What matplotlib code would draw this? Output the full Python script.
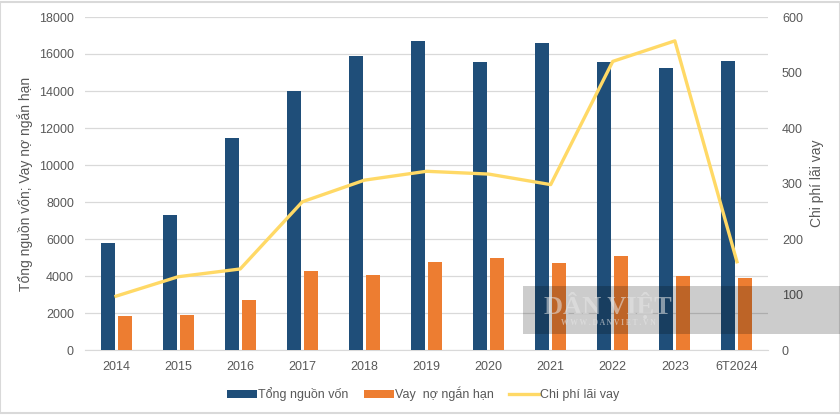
import matplotlib
matplotlib.use("Agg")
import matplotlib.pyplot as plt
import numpy as np
from matplotlib.patches import Rectangle

categories = ["2014", "2015", "2016", "2017", "2018", "2019", "2020", "2021", "2022", "2023", "6T2024"]
tong_nguon_von = [5780, 7300, 11450, 14000, 15880, 16700, 15560, 16600, 15560, 15240, 15610]
vay_no_ngan_han = [1840, 1890, 2700, 4270, 4050, 4750, 4970, 4700, 5080, 4000, 3890]
chi_phi_lai_vay = [97, 132, 146, 267, 306, 322, 317, 298, 520, 557, 159]

plt.rcParams['font.family'] = ['Liberation Sans', 'DejaVu Sans']
txt = '#595959'

fig = plt.figure(figsize=(8.4, 4.19), dpi=100)
ax = fig.add_axes([85/840, 1-350/419, (768-85)/840, (350-17)/419])
ax2 = ax.twinx()

x = np.arange(len(categories))
w = 0.225
off = 0.137
b1 = ax.bar(x - off, tong_nguon_von, w, color='#1F4E79', zorder=3, label='Tổng nguồn vốn')
b2 = ax.bar(x + off, vay_no_ngan_han, w, color='#ED7D31', zorder=3, label='Vay  nợ ngắn hạn')
l1, = ax2.plot(x, chi_phi_lai_vay, color='#FFD966', lw=2.4, zorder=4, label='Chi phí lãi vay')

ax.set_xlim(-0.5, len(categories) - 0.5)
ax.set_ylim(0, 18000)
ax.set_yticks(np.arange(0, 18001, 2000))
ax2.set_ylim(0, 600)
ax2.set_yticks(np.arange(0, 601, 100))
ax.set_xticks(x)
ax.set_xticklabels(categories)
ax.grid(axis='y', color='#D9D9D9', lw=0.9, zorder=0)
for a in (ax, ax2):
    for s in a.spines.values():
        s.set_visible(False)
    a.tick_params(length=0, colors=txt, labelsize=9)
ax.spines['bottom'].set_visible(True)
ax.spines['bottom'].set_color('#D9D9D9')
ax.tick_params(axis='y', pad=8)
ax.tick_params(axis='x', pad=8)
ax2.tick_params(axis='y', pad=10)
ax.set_ylabel('Tổng nguồn vốn; Vay nợ ngắn hạn', color=txt, fontsize=10)
ax.yaxis.set_label_coords((33 - 85) / 683, 0.5)
ax2.set_ylabel('Chi phí lãi vay', color=txt, fontsize=10)
ax2.yaxis.set_label_coords((810 - 85) / 683, 0.5)

fig.legend(handles=[b1, b2, l1], loc='center', bbox_to_anchor=(423/840, 1-394/419), ncol=3,
           frameon=False, fontsize=9, labelcolor=txt, handlelength=2.4, handleheight=0.6,
           handletextpad=0.1, columnspacing=1.2)

# watermark box
fig.patches.append(Rectangle((523/840, 1-334/419), (840-523)/840, 48/419, transform=fig.transFigure,
                             facecolor='black', alpha=0.2, edgecolor='none', zorder=10))
fig.text(608/840, 1-305/419, 'DÂN VIỆT', transform=fig.transFigure, fontsize=19, color='#e6e6e6',
         ha='center', va='center', family='Liberation Serif', weight='bold', zorder=11, alpha=0.55)
fig.text(608/840, 1-323/419, 'W W W . D A N V I E T . V N', transform=fig.transFigure, fontsize=5.5, color='#e6e6e6',
         ha='center', va='center', family='Liberation Serif', weight='bold', zorder=11, alpha=0.55)

# border lines
fig.patches.append(Rectangle((0, 1-413/419), 1, 411/419, transform=fig.transFigure,
                             facecolor='none', edgecolor='#D9D9D9', lw=1.5, zorder=0))

fig.savefig('out.png', dpi=100)
